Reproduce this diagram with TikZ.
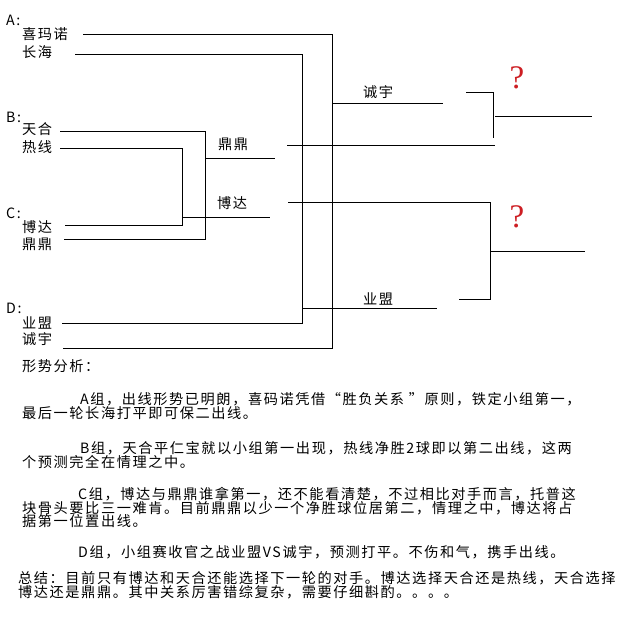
\documentclass[tikz,border=0pt]{standalone}
\usepackage{fontspec}
\usepackage{xcolor}
\usepackage{tikz}
\newfontfamily\cjk[LetterSpace=11]{Noto Sans CJK SC}
\newfontfamily\qfont{Liberation Serif}
\definecolor{qred}{RGB}{205,30,35}
\newcommand{\txtfont}{\cjk\fontsize{14.2}{14}\selectfont}
\tikzstyle{group} = [anchor=base west, inner sep=0pt, font=\txtfont]
\tikzstyle{team} = [anchor=base west, inner sep=0pt, font=\txtfont]
\tikzstyle{winner} = [anchor=base, inner sep=0pt, font=\txtfont]
\tikzstyle{para} = [anchor=base west, inner sep=0pt, font=\txtfont]
\tikzstyle{guess} = [inner sep=0pt, text=qred, font=\qfont\fontsize{33}{33}\selectfont]
\tikzstyle{bracket} = [line width=0.9pt, black]

\begin{document}
\begin{tikzpicture}[x=1pt, y=-1pt]
\useasboundingbox (0,0) rectangle (633,643);
\fill[white] (0,0) rectangle (633,643);

% Groups and teams
\node (grpA) [group] at (6,25) {A:};
\node (xmn) [team] at (22,39) {喜玛诺};
\node (ch) [team] at (22,57) {长海};
\node (grpB) [group] at (6,122) {B:};
\node (th) [team] at (22,134) {天合};
\node (rx) [team] at (22,152) {热线};
\node (grpC) [group] at (6,218) {C:};
\node (bd) [team] at (22,232) {博达};
\node (dd) [team] at (22,249) {鼎鼎};
\node (grpD) [group] at (6,313) {D:};
\node (ym) [team] at (22,328) {业盟};
\node (cy) [team] at (22,344) {诚宇};

% Winners of the first round
\node (wdd) [winner] at (233,149) {鼎鼎};
\node (wbd) [winner] at (232,208) {博达};
\node (wcy) [winner] at (378,97) {诚宇};
\node (wym) [winner] at (378,304) {业盟};

% Open results
\node (q1) [guess] at (517,78) {?};
\node (q2) [guess] at (517,217) {?};

% Line ends
\coordinate (xmnL) at (83,34);
\coordinate (chL) at (75,54);
\coordinate (thL) at (60,131);
\coordinate (rxL) at (60,148);
\coordinate (bdL) at (65,225);
\coordinate (ddL) at (64,239);
\coordinate (ymL) at (62,323);
\coordinate (cyL) at (63,348);
\coordinate (jAD) at (332,348);
\coordinate (jDA) at (302,323);
\coordinate (jBC) at (205,239);
\coordinate (jCB) at (182,225);

% Brackets
\draw [bracket] (xmnL) -| (jAD) -- (cyL);
\draw [bracket] (chL) -| (jDA) -- (ymL);
\draw [bracket] (thL) -| (jBC) -- (ddL);
\draw [bracket] (rxL) -| (jCB) -- (bdL);
\draw [bracket] (205,158) -- (275,158);
\draw [bracket] (182,217) -- (270,217);
\draw [bracket] (332,103) -- (443,103);
\draw [bracket] (302,308) -- (437,308);
\draw [bracket] (287,145) -- (495,145);
\draw [bracket] (288,202) -| (490,299) -- (459,299);
\draw [bracket] (466,92) -| (493,138);
\draw [bracket] (495,116) -- (592,116);
\draw [bracket] (490,251) -- (585,251);

% Analysis
\node (ana) [para] at (22,371) {形势分析：};
\node (anaA1) [para] at (80,404) {A组，出线形势已明朗，喜码诺凭借“胜负关系 ”原则，铁定小组第一，};
\node (anaA2) [para] at (22,418) {最后一轮长海打平即可保二出线。};
\node (anaB1) [para] at (80,453) {B组，天合平仁宝就以小组第一出现，热线净胜2球即以第二出线，这两};
\node (anaB2) [para] at (22,467) {个预测完全在情理之中。};
\node (anaC1) [para] at (78,499) {C组，博达与鼎鼎谁拿第一，还不能看清楚，不过相比对手而言，托普这};
\node (anaC2) [para] at (22,513) {块骨头要比三一难肯。目前鼎鼎以少一个净胜球位居第二，情理之中，博达将占};
\node (anaC3) [para] at (22,526) {据第一位置出线。};
\node (anaD) [para] at (78,557) {D组，小组赛收官之战业盟VS诚宇，预测打平。不伤和气，携手出线。};
\node (sum1) [para] at (18,583) {总结：目前只有博达和天合还能选择下一轮的对手。博达选择天合还是热线，天合选择};
\node (sum2) [para] at (18,597) {博达还是鼎鼎。其中关系厉害错综复杂，需要仔细斟酌。。。。};

\end{tikzpicture}
\end{document}
